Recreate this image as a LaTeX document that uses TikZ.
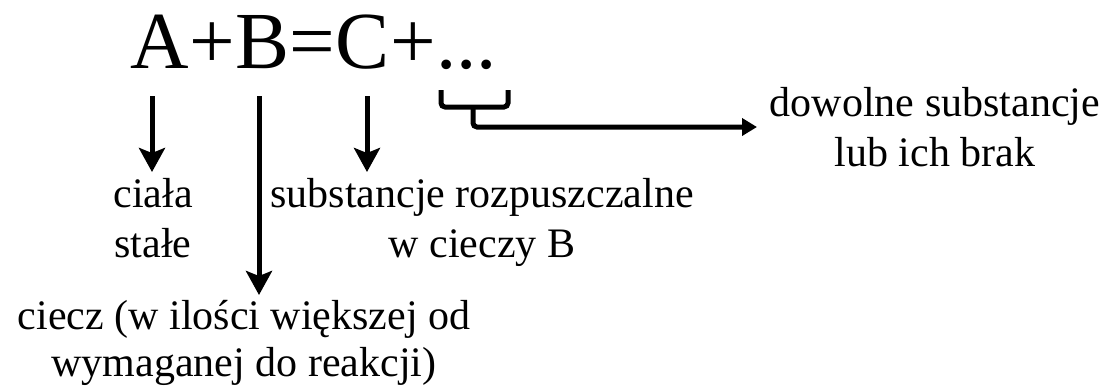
\documentclass[tikz,border=0pt]{standalone}
\usepackage{fontspec}
\setmainfont{Liberation Serif}
\usetikzlibrary{arrows.meta}
\begin{document}
\begin{tikzpicture}[x=1pt,y=-1pt,
  eq/.style={inner sep=0pt,anchor=base west,font=\fontsize{81}{90}\selectfont},
  lbl/.style={inner sep=0pt,anchor=base,align=center,font=\fontsize{42}{50}\selectfont},
  bigarr/.style={line width=5pt,-{Stealth[length=24pt,width=26pt,inset=5pt]}},
  smallarr/.style={line width=5pt,rounded corners=4pt,-{Triangle[length=15pt,width=17pt]}},
  brace/.style={line width=5pt,rounded corners=4pt}]
\useasboundingbox (0,0) rectangle (1111,386);
% equation
\node[eq] (A) at (130,68) {A};
\node[eq] (p1) at (A.base east) {+};
\node[eq] (B) at (p1.base east) {B};
\node[eq] (eqs) at (B.base east) {=};
\node[eq] (C) at (eqs.base east) {C};
\node[eq] (p2) at (C.base east) {+};
\node[eq] (dots) at (p2.base east) {...};
% labels (base anchor = baseline of last line)
\node[lbl] (ciala) at (153,257) {ciała\\stałe};
\node[lbl] (subst) at (482,257) {substancje rozpuszczalne\\w cieczy B};
\node[lbl] (dowol) at (935,166) {dowolne substancje\\lub ich brak};
\node[lbl,font=\fontsize{42}{47}\selectfont] (ciecz) at (244,376) {ciecz (w ilości większej od\\wymaganej do reakcji)};
% arrow coordinates
\coordinate (a0) at (152,96);
\coordinate (a1) at (152,172);
\coordinate (b0) at (259,96);
\coordinate (b1) at (259,295);
\coordinate (c0) at (367,96);
\coordinate (c1) at (367,172);
\draw[bigarr] (a0) -- (a1);
\draw[bigarr] (b0) -- (b1);
\draw[bigarr] (c0) -- (c1);
% brace under dots
\coordinate (bl) at (441,90);
\coordinate (br) at (508,90);
\coordinate (bm) at (473,107);
\coordinate (tip) at (757,127);
\draw[brace] (bl) -- (bl|-bm) -- (br|-bm) -- (br);
\draw[smallarr] (bm) -- (bm|-tip) -- (tip);
\end{tikzpicture}
\end{document}
